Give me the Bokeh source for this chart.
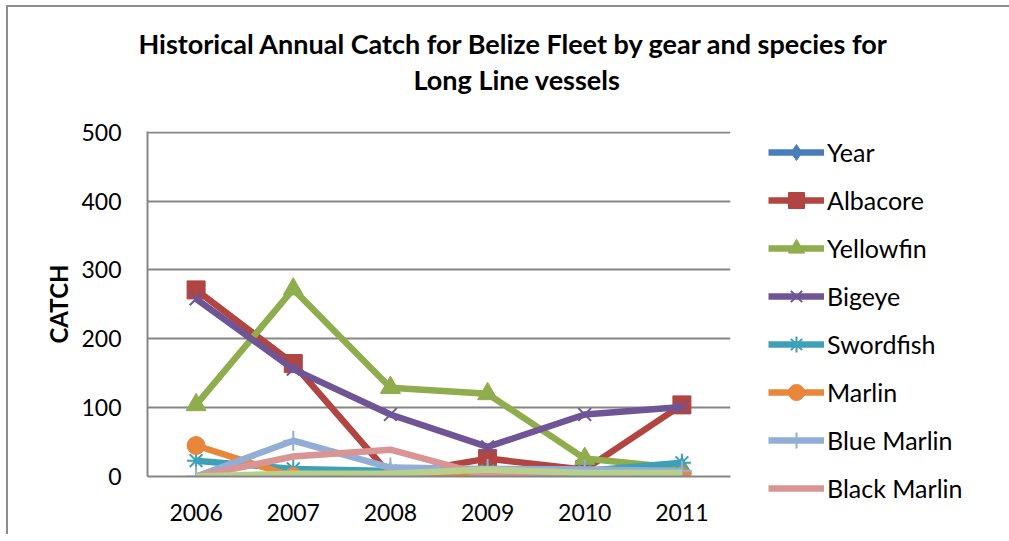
from bokeh.plotting import figure
from bokeh.models import Legend, LegendItem, Title, Range1d, FixedTicker
from bokeh.embed import file_html
from bokeh.resources import INLINE

years = [2006, 2007, 2008, 2009, 2010, 2011]
year_series = [2006, 2007, 2008, 2009, 2010, 2011]
albacore = [271, 164, 2, 26, 10, 104]
yellowfin = [104, 272, 129, 120, 26, 12]
bigeye = [258, 156, 90, 43, 90, 101]
swordfish = [23, 11, 8, 8, 8, 20]
marlin = [45, 0, 0, 0, 0, 0]
blue_marlin = [0, 52, 13, 11, 10, 8]
black_marlin = [0, 29, 39, 1, 0, 0]
other = [0, 4, 4, 10, 5, 5]
y_ticks = [0, 100, 200, 300, 400, 500]

FONT = "Lato"

p = figure(frame_width=583, frame_height=345, output_backend="svg",
           toolbar_location=None,
           x_range=Range1d(2005.5, 2011.5), y_range=Range1d(0, 501),
           min_border_left=139, min_border_right=271, min_border_top=124,
           min_border_bottom=58)
p.styles = {"margin-left": "6px", "margin-top": "5px",
            "border-left": "2px solid #8c8c8c", "border-top": "2px solid #8c8c8c"}
p.outline_line_color = None
p.background_fill_color = "white"

p.xgrid.grid_line_color = None
p.ygrid.grid_line_color = "#868686"
p.ygrid.grid_line_width = 2

p.xaxis.ticker = FixedTicker(ticks=years)
p.yaxis.ticker = FixedTicker(ticks=y_ticks)
for ax in (p.xaxis[0], p.yaxis[0]):
    ax.axis_line_color = "#868686"
    ax.axis_line_width = 2
    ax.major_tick_line_color = None
    ax.minor_tick_line_color = None
    ax.major_label_text_font = FONT
    ax.major_label_text_font_size = "23px"
    ax.major_label_text_color = "black"
p.xaxis.major_label_standoff = 21
p.yaxis.major_label_standoff = 20
p.yaxis.axis_label = "CATCH"
p.yaxis.axis_label_text_font = FONT
p.yaxis.axis_label_text_font_style = "bold"
p.yaxis.axis_label_text_font_size = "24px"
p.yaxis.axis_label_text_color = "black"
p.yaxis.axis_label_standoff = 5

series = [
    ("Year", year_series, "#4A7EBB", "diamond", 20),
    ("Albacore", albacore, "#B04541", "square", 18),
    ("Yellowfin", yellowfin, "#8FAD4C", "triangle", 20),
    ("Bigeye", bigeye, "#6F5596", "x", 18),
    ("Swordfish", swordfish, "#3EA0B8", "asterisk", 18),
    ("Marlin", marlin, "#E8873A", "circle", 18),
    ("Blue Marlin", blue_marlin, "#93AED6", "cross", 20),
    ("Black Marlin", black_marlin, "#D99594", None, 0),
    (None, other, "#B8D08E", None, 0),
]

items = []
for name, vals, color, marker, size in series:
    rs = [p.line(years, vals, line_color=color, line_width=6.5)]
    if marker:
        if marker in ("x", "asterisk", "cross"):
            rs.append(p.scatter(years, vals, marker=marker, size=size,
                                line_color=color, line_width=2, fill_color=None))
        else:
            rs.append(p.scatter(years, vals, marker=marker, size=size,
                                fill_color=color, line_color=color))
    if name:
        items.append(LegendItem(label=name, renderers=rs))

legend = Legend(items=items, location=(38, -32), orientation="vertical",
                label_text_font=FONT, label_text_font_size="25px",
                label_text_color="black",
                glyph_width=56, glyph_height=40, label_height=30,
                spacing=8, padding=8, margin=0, border_line_color=None,
                background_fill_alpha=0, label_standoff=3)
p.add_layout(legend, "right")

t2 = Title(text="Long Line vessels", align="left", offset=266,
           text_font=FONT, text_font_style="bold", text_font_size="27px",
           text_color="black", standoff=71)
t1 = Title(text="Historical Annual Catch for Belize Fleet by gear and species for",
           align="left", offset=-9, text_font=FONT, text_font_style="bold",
           text_font_size="27px", text_color="black", standoff=-69)
p.add_layout(t2, "above")
p.add_layout(t1, "above")

open("out.html", "w").write(file_html(p, INLINE))
